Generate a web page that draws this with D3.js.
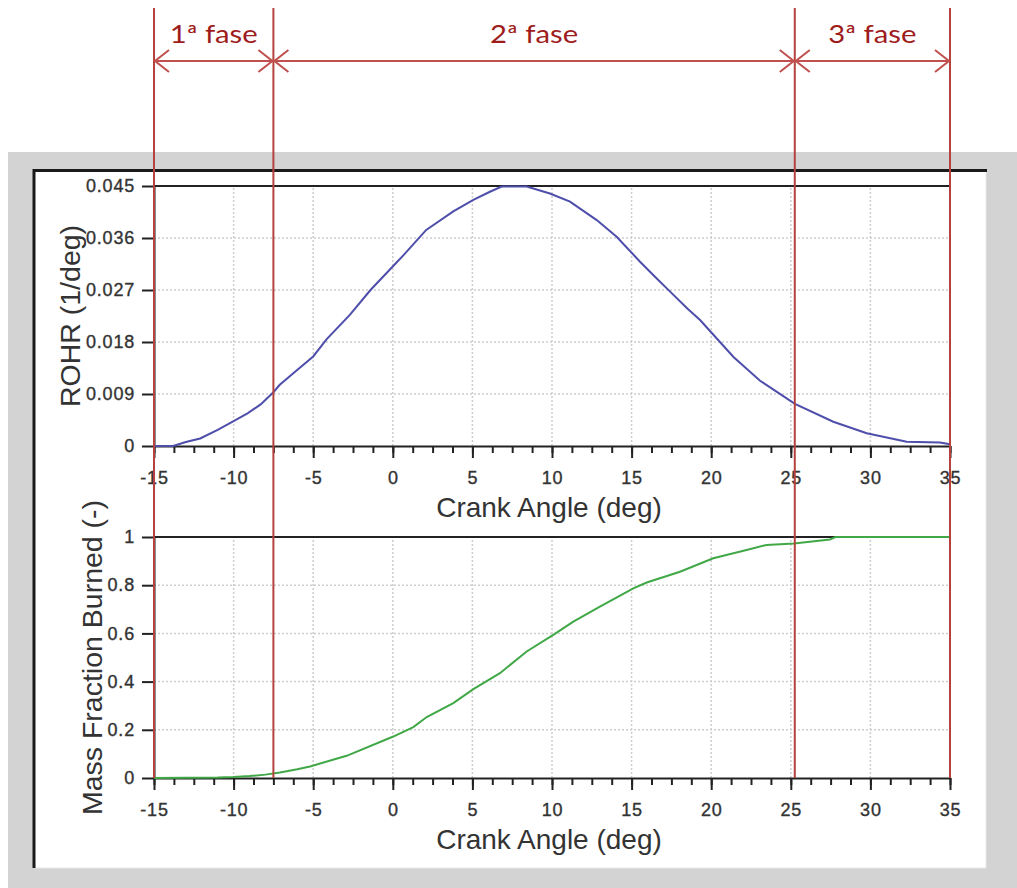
<!DOCTYPE html>
<html>
<head>
<meta charset="utf-8">
<script src="https://cdn.jsdelivr.net/npm/d3@7"></script>
<style>
  html, body { margin: 0; padding: 0; background: #fff; }
  svg { display: block; }
  text { font-family: "Liberation Sans", Arial, sans-serif; }
</style>
</head>
<body>
<div id="chart"></div>
<script>
const width = 1017
const height = 888

// rate of heat release
const rohrAngle = [-15, -13.8, -13, -12.1, -11, -10, -9.1, -8.3, -7.5, -7.1, -6.25, -5, -4.15, -2.7, -1.4, 0.25, 0.66,
  2.1, 3.8, 5.06, 6.1, 6.84, 8.41, 9.87, 11.13, 12.81, 14.06, 15.53, 16.5, 17.5, 18.5, 19.3, 20.55, 21.4, 23.07,
  25.26, 27.67, 29.77, 32.28, 34.37, 35]
const rohrValue = [0, 0, 0.0007, 0.0013, 0.0028, 0.0043, 0.0057, 0.0072, 0.0093, 0.0106, 0.0126, 0.0155, 0.0185,
  0.0227, 0.027, 0.0318, 0.033, 0.0374, 0.0406, 0.0426, 0.044, 0.0449, 0.0449, 0.0437, 0.0423, 0.0391, 0.0362,
  0.0319, 0.0292, 0.0265, 0.0238, 0.0218, 0.018, 0.0154, 0.0113, 0.0073, 0.0042, 0.0022, 0.00075, 0.0006, 0.0003]

// mass fraction burned, lower panel
const mfbAngle = [-15, -11, -10, -9, -8, -7.09, -6, -5.2, -2.9, 0.03, 1.29, 2.13, 3.8, 5.06, 6.73, 8.41, 10.08,
  11.34, 13.01, 15.11, 15.95, 18.04, 20.13, 22.22, 23.47, 25.2, 27.46, 27.8, 35]
const mfbValue = [0, 0.002, 0.004, 0.008, 0.014, 0.023, 0.036, 0.048, 0.092, 0.172, 0.211, 0.253, 0.311, 0.369,
  0.435, 0.525, 0.594, 0.649, 0.711, 0.787, 0.811, 0.856, 0.912, 0.946, 0.967, 0.973, 0.99, 1, 1]

const xTicks = [-15, -10, -5, 0, 5, 10, 15, 20, 25, 30, 35]
const rohrTicks = [0, 0.009, 0.018, 0.027, 0.036, 0.045]
const rohrTickLabels = ['0', '0.009', '0.018', '0.027', '0.036', '0.045']
const mfbTicks = [0, 0.2, 0.4, 0.6, 0.8, 1]
const mfbTickLabels = ['0', '0.2', '0.4', '0.6', '0.8', '1']

const phaseBounds = [-15, -7.5, 25.25, 35]
const phaseNames = ['1ª fase', '2ª fase', '3ª fase']

const style = {
  frame: '#d3d3d3',
  axis: '#222',
  grid: '#cdcdcd',
  text: '#333',
  rohr: '#4e4eab',
  mfb: '#41a847',
  phaseLine: '#b5423d',
  arrow: '#c0504d',
  phaseText: '#9e1c1c'
}

const x = d3.scaleLinear().domain([-15, 35]).range([154, 950])
const yRohr = d3.scaleLinear().domain([0, 0.045]).range([446, 186])
const yMfb = d3.scaleLinear().domain([0, 1]).range([778, 537])

const svg = d3.select('#chart')
  .append('svg')
  .attr('width', width)
  .attr('height', height)

// window frame
svg.append('rect').attr('x', 8).attr('y', 152).attr('width', width - 8).attr('height', height - 152)
  .attr('fill', style.frame)
svg.append('rect').attr('x', 34).attr('y', 170).attr('width', 952).attr('height', 698)
  .attr('fill', '#fff').attr('stroke', '#e8e8e8')
svg.append('path').attr('d', 'M34,868V170.5H987')
  .attr('fill', 'none').attr('stroke', '#1a1a1a').attr('stroke-width', 3)

function drawPanel(y, ticks, labels, angles, values, color, title) {
  const g = svg.append('g')
  const [y0, y1] = y.range()

  // dotted grid
  g.append('g').selectAll('line')
    .data(xTicks.slice(1, -1))
    .join('line')
    .attr('x1', d => x(d)).attr('x2', d => x(d))
    .attr('y1', y0).attr('y2', y1)
  g.append('g').selectAll('line')
    .data(ticks.slice(1, -1))
    .join('line')
    .attr('x1', x.range()[0]).attr('x2', x.range()[1])
    .attr('y1', d => y(d)).attr('y2', d => y(d))
  g.selectAll('line')
    .attr('stroke', style.grid).attr('stroke-width', 1.5).attr('stroke-dasharray', '2,2')

  // top boundary
  g.append('line')
    .attr('x1', x.range()[0]).attr('x2', x.range()[1])
    .attr('y1', y1).attr('y2', y1)
    .attr('stroke', style.axis).attr('stroke-width', 2)

  const minor = g.append('g')
    .attr('transform', `translate(0,${y0})`)
    .call(d3.axisBottom(x).tickValues(d3.range(-15, 35.01, 1.25)).tickSize(7).tickSizeOuter(0).tickFormat(''))
  minor.select('.domain').remove()

  g.append('g')
    .attr('transform', `translate(0,${y0})`)
    .call(d3.axisBottom(x).tickValues(xTicks).tickSize(12).tickSizeOuter(0).tickPadding(13).tickFormat(d => d))

  const yAxis = g.append('g')
    .attr('transform', `translate(${x.range()[0]},0)`)
    .call(d3.axisLeft(y).tickValues(ticks).tickSize(12).tickSizeOuter(0).tickPadding(7)
      .tickFormat((d, i) => labels[i]))

  g.selectAll('.tick line, .domain').attr('stroke', style.axis).attr('stroke-width', 2)
  g.selectAll('.tick text')
    .attr('fill', style.text)
    .attr('stroke', style.text)
    .attr('stroke-width', 0.35)
    .style('font-size', '18px')
    .style('letter-spacing', '0.8px')

  const line = d3.line()
    .x(d => x(d[0]))
    .y(d => y(d[1]))
  g.append('path')
    .datum(d3.zip(angles, values))
    .attr('d', line)
    .attr('fill', 'none')
    .attr('stroke', color)
    .attr('stroke-width', 2)

  g.append('text')
    .attr('x', (x.range()[0] + x.range()[1]) / 2 - 3)
    .attr('y', y0 + 71)
    .attr('text-anchor', 'middle')
    .attr('fill', style.text)
    .style('font-size', '28px')
    .text('Crank Angle (deg)')

  const box = yAxis.node().getBBox()
  g.append('text')
    .attr('transform', `translate(${x.range()[0] + box.x - 6},${(y0 + y1) / 2}) rotate(-90)`)
    .attr('text-anchor', 'middle')
    .attr('fill', style.text)
    .style('font-size', '28.5px')
    .text(title)
}

drawPanel(yRohr, rohrTicks, rohrTickLabels, rohrAngle, rohrValue, style.rohr, 'ROHR (1/deg)')
drawPanel(yMfb, mfbTicks, mfbTickLabels, mfbAngle, mfbValue, style.mfb, 'Mass Fraction Burned (-)')

// phase boundaries and annotations
svg.append('g').selectAll('line')
  .data(phaseBounds)
  .join('line')
  .attr('x1', d => x(d)).attr('x2', d => x(d))
  .attr('y1', 8).attr('y2', yMfb(0))
  .attr('stroke', style.phaseLine)
  .attr('stroke-width', 2)

const arrowY = 61
const headX = 14
const headY = 11
const phases = phaseNames.map((name, i) => ({ name, a: phaseBounds[i], b: phaseBounds[i + 1] }))

const arrows = svg.append('g')
  .attr('fill', 'none')
  .attr('stroke', style.arrow)
  .attr('stroke-width', 2)
arrows.selectAll('path')
  .data(phases)
  .join('path')
  .attr('d', p => {
    const xa = x(p.a) + 1
    const xb = x(p.b) - 1
    return `M${xa},${arrowY}H${xb}` +
      `M${xa + headX},${arrowY - headY}L${xa},${arrowY}L${xa + headX},${arrowY + headY}` +
      `M${xb - headX},${arrowY - headY}L${xb},${arrowY}L${xb - headX},${arrowY + headY}`
  })

svg.append('g').selectAll('text')
  .data(phases)
  .join('text')
  .attr('x', p => (x(p.a) + x(p.b)) / 2)
  .attr('y', 43)
  .attr('text-anchor', 'middle')
  .attr('fill', style.phaseText)
  .attr('textLength', 88)
  .attr('lengthAdjust', 'spacingAndGlyphs')
  .style('font-family', 'Lato, "Open Sans", sans-serif')
  .style('font-size', '25px')
  .text(p => p.name)
</script>
</body>
</html>
